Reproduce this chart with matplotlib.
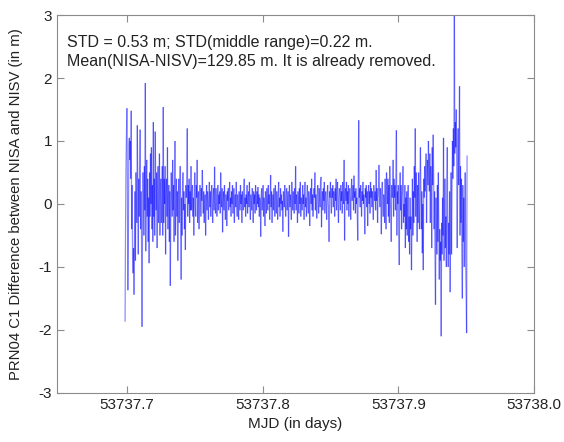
import numpy as np
import matplotlib
matplotlib.use("Agg")
import matplotlib.pyplot as plt
from matplotlib.collections import LineCollection

plt.rcParams['font.family'] = ['Liberation Sans', 'DejaVu Sans']
plt.rcParams['axes.unicode_minus'] = False

# first epoch (MJD) and sampling interval (s)
t_start = 53737.6985
interval_s = 30

# NISA - NISV C1 difference (m), mean removed
diff_start = [
    -1.87, -0.40, 0.60, 1.10, 1.52, 0.20, -1.37, -0.50, 0.90, 1.05, 0.70, 1.00, 0.40, 1.48, -0.40, 0.30, -0.90, -1.10, -0.70, -1.44,
    -0.60, 0.20, -0.90, 0.50, 0.10, -0.30, 1.25, 0.30, -0.80, 0.40, -0.20, 0.60, 1.18, -0.40, 0.20, -0.60, -1.95, -0.30, 0.50, 0.10,
    -0.50, 0.60, -0.10, 1.92, -0.75, 0.30, 0.70, -0.20, 0.40, -0.60, 0.10, -0.94, 0.50, -0.20, 0.80, 0.00, 0.90, -0.40, 0.30, -0.60,
    1.30, -0.20, 0.40, -0.50, 1.15, 0.30, -0.10, 0.50, -0.70, 0.20, 0.60, -0.30, 0.10, 0.80, -0.50, 0.20, 0.40, -0.30, 0.10, 0.60,
    -0.50, 1.54, -0.30, 0.40, 0.00, 0.60, -0.80, 0.20, 0.40, -0.20, 0.90, -0.40, 0.10, 0.30, -0.60, 0.20, -1.30, -0.20, 0.50, 0.10,
    -0.20, 0.70, -0.10, 0.30, -0.60, 0.20, 1.00, -0.50, 0.10, 0.40, -0.20, 0.20, -0.90, 0.00, 0.40, -0.30, 0.10, 0.60, -0.20, -1.20,
    0.10, -0.50, 0.30, 0.50, -0.10, 0.20, -0.40, 0.00, -0.73, 0.30, 0.10, 0.40, 1.20, -0.20, 0.30, 0.00, 0.40, -0.30, 0.20, -0.10,
    0.60, -0.10, 0.20, 0.30, -0.20, 0.10, -0.50, 0.20, 0.50, 0.00, -0.20, 0.30, 0.10, 0.70, -0.30, 0.10, 0.20, -0.40, 0.00, 0.30,
]
diff_middle = [
    0.10, -0.20, 0.25, 0.05, 0.54, 0.10, -0.15, 0.20, -0.30, 0.05, 0.15, -0.50, 0.00, 0.30, -0.10, 0.20, 0.10, -0.25, 0.15, 0.35,
    -0.05, 0.20, -0.20, 0.10, 0.30, 0.00, -0.30, 0.15, 0.25, -0.10, 0.59, 0.05, -0.15, 0.25, 0.10, -0.20, 0.05, 0.30, -0.10, 0.15,
    0.00, 0.20, -0.15, 0.50, 0.10, -0.05, 0.25, -0.45, 0.05, 0.20, -0.10, 0.30, 0.00, -0.25, 0.15, 0.10, -0.35, 0.20, 0.05, 0.25,
    -0.10, 0.15, 0.35, -0.05, 0.10, -0.20, 0.20, 0.00, 0.30, -0.15, 0.05, 0.25, -0.30, 0.10, 0.15, -0.05, 0.35, 0.00, -0.20, 0.15,
    0.05, -0.25, 0.20, 0.10, -0.10, 0.30, 0.00, 0.15, -0.30, 0.20, 0.05, -0.10, 0.25, 0.40, -0.05, 0.10, -0.20, 0.15, 0.00, 0.30,
    -0.15, 0.10, 0.20, -0.05, 0.35, 0.00, -0.25, 0.15, 0.05, -0.10, 0.25, 0.10, -0.30, 0.20, 0.00, 0.15, -0.15, 0.30, 0.05, -0.10,
    0.20, 0.00, 0.27, -0.05, 0.15, -0.20, 0.10, 0.05, -0.52, 0.15, 0.25, -0.10, 0.05, 0.30, -0.20, 0.10, 0.00, -0.35, 0.20, 0.10,
    -0.15, 0.25, 0.05, -0.10, 0.30, 0.00, 0.15, -0.25, 0.10, 0.46, -0.05, 0.20, -0.30, 0.05, 0.15, -0.10, 0.25, 0.00, -0.20, 0.30,
    0.05, -0.15, 0.20, 0.10, -0.25, 0.15, 0.35, -0.05, 0.10, -0.20, 0.25, 0.00, 0.15, -0.10, 0.05, -0.44, 0.20, 0.10, -0.05, 0.30,
    0.00, -0.20, 0.15, 0.25, -0.10, 0.05, 0.20, -0.52, 0.10, 0.30, -0.05, 0.15, 0.00, -0.25, 0.35, 0.10, -0.10, 0.20, 0.05, -0.15,
    0.25, 0.00, 0.60, -0.10, 0.15, 0.05, -0.30, 0.20, 0.10, -0.15, 0.25, 0.00, 0.35, -0.20, 0.10, 0.05, -0.10, 0.30, 0.00, 0.15,
    -0.25, 0.20, 0.35, -0.05, 0.10, -0.20, 0.15, 0.30, 0.00, -0.15, 0.20, 0.05, -0.35, 0.10, 0.25, 0.00, 0.40, -0.10, 0.15, -0.20,
    0.05, 0.25, 0.10, 0.50, -0.10, 0.15, 0.00, -0.23, 0.20, 0.30, 0.05, -0.15, 0.25, 0.10, -0.05, 0.35, 0.43, -0.37, 0.10, 0.20,
    -0.10, 0.25, 0.05, 0.35, -0.15, 0.10, 0.20, 0.00, -0.25, 0.15, 0.30, 0.05, -0.10, -0.60, 0.20, 0.10, 0.35, 0.00, -0.15, 0.25,
    0.10, 0.30, -0.05, 0.20, 0.15, -0.20, 0.25, 0.05, 0.40, -0.10, 0.20, 0.35, 0.00, -0.30, 0.15, 0.25, 0.10, -0.10, 0.30, 0.05,
    0.20, -0.15, 0.35, 0.10, 0.00, 0.70, -0.58, 0.15, 0.25, 0.05, 0.35, -0.10, 0.20, 0.00, 0.30, -0.20, 0.15, 0.25, 0.10, -0.25,
    0.20, 0.40, 0.05, 0.15, 0.30, -0.10, 0.45, 0.10, 0.20, -0.15, 0.25, 0.00, 0.10, -0.20, -0.58, 0.30, 1.33, 0.10, 0.25, -0.05,
    0.30, 0.15, -0.20, 0.20, 0.05, 0.35, 0.00, 0.15, -0.10, -0.48, 0.25, 0.10, 0.30, -0.05, 0.20, -0.35, 0.15, 0.30, 0.00, 0.20,
    -0.15, 0.35, 0.10, 0.25, -0.05, 0.20, 0.00, -0.25, 0.30, 0.15, 0.05, 0.20, -0.10, 0.54, 0.05, 0.25, -0.30, 0.10, 0.20, 0.62,
    0.15, -0.05, 0.25, 0.10, -0.48, 0.20, 0.35, 0.05, -0.20, 0.15,
]
diff_end = [
    0.10, -0.30, 0.40, 0.00, -0.40, 0.50, 0.20, 0.00, 0.40, -0.20, 0.30, -0.30, 0.60, 0.10, -0.10, -0.60, 0.30, 0.10, 0.20, 0.70,
    -0.20, 0.40, 0.10, 0.30, -0.10, 0.50, 1.17, -0.50, 0.20, 0.00, 0.30, -0.40, -0.97, 0.20, 0.50, -0.10, 0.30, -0.40, 0.10, 0.20,
    0.60, -0.30, 0.00, -0.20, 0.30, -0.70, 0.10, -0.40, 0.20, -0.50, 0.00, 0.30, -0.60, -0.20, -0.80, 0.10, -0.40, -0.20, -1.05, -0.30,
    0.40, -0.50, 0.20, -0.30, 0.60, 0.10, 1.20, -0.20, 0.50, 0.00, -0.60, 0.30, -0.30, 0.50, 0.10, -0.40, 0.30, 0.90, 0.20, -0.40,
    0.20, -0.78, 0.00, -1.05, 0.40, 0.10, 0.60, 0.20, 0.50, 0.80, -0.30, 0.40, 0.70, 0.30, 1.00, 0.50, 0.20, 0.80, -0.30, 0.60,
    0.40, -0.70, 0.90, 0.30, 1.10, 0.50, -0.40, 0.20, -0.90, -1.60, 0.10, -0.50, -0.80, 0.30, -0.60, 0.50, -0.30, -1.20, -0.40, -0.90,
    -0.60, -2.10, -0.30, -0.80, 0.10, -0.50, 1.05, -0.90, -0.40, 0.40, -0.70, -0.20, -1.00, 0.30, 0.90, -0.50, -1.00, -0.30, -0.80, 0.20,
    -1.40, -0.60, 0.50, -0.80, 0.20, 1.00, 0.40, 1.20, 0.60, 3.30, 0.80, 1.30, 0.90, 1.50, 0.70, -0.70, 0.40, 1.20, 0.30, 0.90,
    1.87, -0.50, 0.60, -0.30, 0.40, -0.80, -1.50, 0.30, -0.60, 0.10, -1.00, -0.40, 0.50, -0.90, -1.40, -2.05, 0.77,
]

diff = np.array(diff_start + diff_middle + diff_end)
mjd = t_start + np.arange(len(diff)) * interval_s / 86400.0

fig = plt.figure(figsize=(5.64, 4.42), dpi=100)
ax = fig.add_axes([0.101, 0.111, 0.846, 0.855])

# one segment per epoch pair so overlapping strokes darken like the original
pts = np.column_stack([mjd, diff])
segs = np.stack([pts[:-1], pts[1:]], axis=1)
lc = LineCollection(segs, colors="blue", linewidths=0.9, alpha=0.45)
ax.add_collection(lc)

ax.set_xlim(53737.6483, 53738.0)
ax.set_ylim(-3, 3)
ax.set_xticks([53737.7, 53737.8, 53737.9, 53738.0])
ax.set_xticklabels(["53737.7", "53737.8", "53737.9", "53738.0"])
ax.set_yticks(range(-3, 4))

grey = "#8c8c8c"
for s in ax.spines.values():
    s.set_color(grey)
    s.set_linewidth(0.8)
ax.tick_params(direction="in", length=5, width=0.8, color=grey,
               labelsize=11, labelcolor="#222222", top=True, right=True)

ax.set_xlabel("MJD (in days)", fontsize=11, color="#222222", labelpad=4)
ax.set_ylabel("PRN04 C1 Difference between NISA and NISV (in m)",
              fontsize=10.7, color="#222222")
ax.yaxis.set_label_coords(-0.072, 0.5)

ax.text(0.021, 0.926, "STD = 0.53 m; STD(middle range)=0.22 m.",
        transform=ax.transAxes, fontsize=11.5, va="center", color="#222222")
ax.text(0.021, 0.876, "Mean(NISA-NISV)=129.85 m. It is already removed.",
        transform=ax.transAxes, fontsize=11.5, va="center", color="#222222")

fig.savefig("out.png", dpi=100)
